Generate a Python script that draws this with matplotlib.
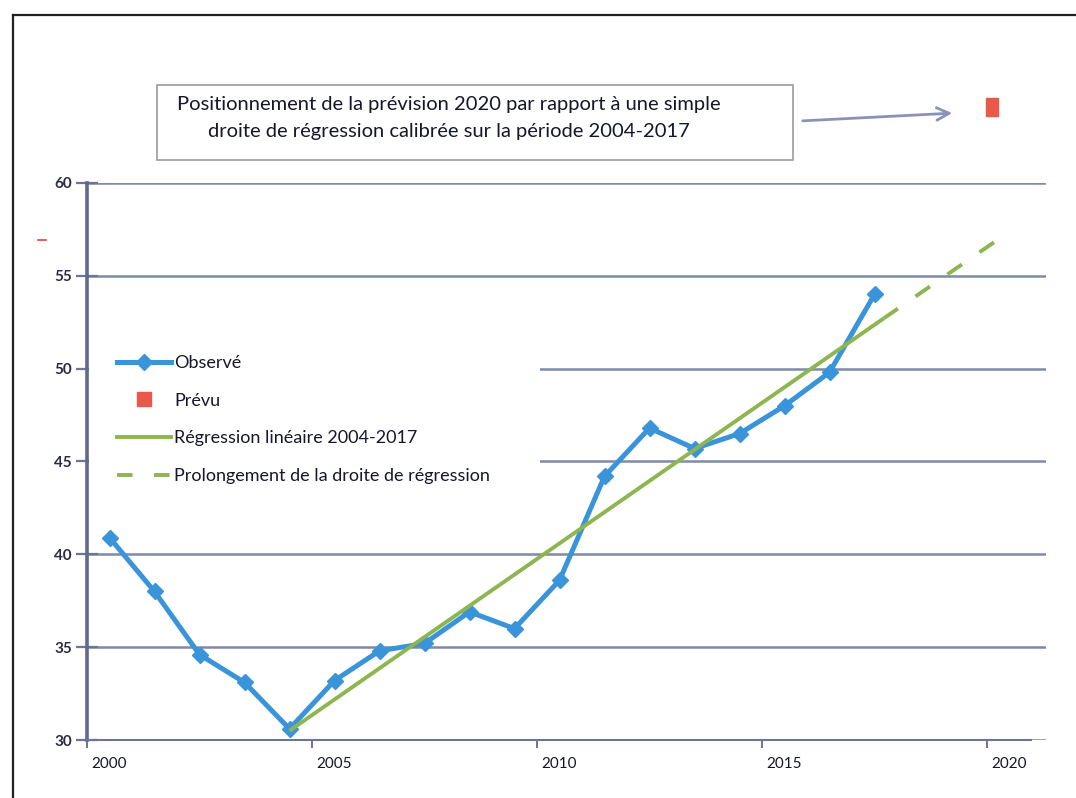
import matplotlib

matplotlib.use("Agg")
import matplotlib.pyplot as plt
import matplotlib.transforms as mtrans
from matplotlib.lines import Line2D
from matplotlib.patches import Rectangle

plt.rcParams["font.family"] = ["Lato", "DejaVu Sans"]

YEARS = [2000, 2001, 2002, 2003, 2004, 2005, 2006, 2007, 2008,
         2009, 2010, 2011, 2012, 2013, 2014, 2015, 2016, 2017]
OBSERVED = [40.9, 38.0, 34.6, 33.1, 30.6, 33.2, 34.8, 35.2, 36.9,
            36.0, 38.6, 44.2, 46.8, 45.7, 46.5, 48.0, 49.8, 54.0]

# linear regression 2004-2017 and its extension
REG_YEARS = [2004, 2017.2]
REG_VALUES = [30.5, 52.7]
EXT_YEARS = [2017.2, 2019.95]
EXT_VALUES = [52.7, 57.3]

# 2020 forecast (sits above the plot area)
PREVU_YEAR = [2019.6]
PREVU_VALUE = [64.1]

XTICK_LABELS = ["2000", "2005", "2010", "2015", "2020"]
YTICKS = [30, 35, 40, 45, 50, 55, 60]

BLUE = "#3A94DA"
GREEN = "#8DB650"
RED = "#E8594A"
GRID = "#7F89A8"
AXIS = "#5E6A8E"
INK = "#15172A"

W, H = 1076, 798
fig = plt.figure(figsize=(W / 100, H / 100), dpi=100)
fig.patch.set_facecolor("white")

# axes box in pixels: left 87, right 1046, top 183 (=60), bottom 740 (=30)
ax = fig.add_axes([87 / W, 1 - 740 / H, (1046 - 87) / W, (740 - 183) / H])
ax.set_xlim(1999.5, 1999.5 + (1046 - 87) / 45)
ax.set_ylim(30, 60)
ax.set_axisbelow(True)

for s in ("top", "right"):
    ax.spines[s].set_visible(False)
ax.spines["left"].set_color(AXIS)
ax.spines["left"].set_linewidth(2.6)
ax.spines["bottom"].set_color("#6C7593")
ax.spines["bottom"].set_linewidth(1.5)
ax.spines["bottom"].set_bounds(1999.5, 1999.5 + (1031 - 87) / 45)

ax.set_yticks(YTICKS)
ax.set_yticklabels([str(v) for v in YTICKS], fontsize=11, fontweight="bold",
                   color="#2A2C40")
ax.tick_params(axis="y", direction="inout", length=16, width=1.6,
               color="#6C7593", pad=3)
ax.yaxis.grid(True, color=GRID, linewidth=1.8)
ax.xaxis.grid(False)

xt = [1999.5 + 5 * i for i in range(len(XTICK_LABELS))]
ax.set_xticks(xt)
ax.set_xticklabels(XTICK_LABELS, fontsize=11, color=INK, ha="left")
ax.tick_params(axis="x", direction="out", length=6, width=1.4,
               color="#6C7593", pad=6)
off = mtrans.ScaledTranslation(4 / 100, 0, fig.dpi_scale_trans)
for lab in ax.get_xticklabels():
    lab.set_transform(lab.get_transform() + off)

# white legend background hiding the gridlines
ax.add_patch(Rectangle((0.002, (740 - 492) / 557), (540 - 89) / 959, 150 / 557,
                       transform=ax.transAxes, facecolor="white",
                       edgecolor="none", zorder=1))

ax.plot(YEARS, OBSERVED, color=BLUE, lw=3.6, marker="D", ms=8,
        zorder=3, solid_joinstyle="round")
ax.plot(REG_YEARS, REG_VALUES, color=GREEN, lw=2.8, zorder=4,
        solid_capstyle="butt")
ax.plot(EXT_YEARS, EXT_VALUES, color=GREEN, lw=2.8, zorder=4,
        dashes=(4.5, 5.5), dash_capstyle="butt")
rect = [(-0.32, -0.5), (0.32, -0.5), (0.32, 0.5), (-0.32, 0.5), (-0.32, -0.5)]
ax.plot(PREVU_YEAR, PREVU_VALUE, ls="none", marker=rect, ms=12.5,
        color=RED, clip_on=False, zorder=5)

handles = [
    Line2D([], [], color=BLUE, lw=3.6, marker="D", ms=8),
    Line2D([], [], ls="none", marker="s", ms=10, color=RED),
    Line2D([], [], color=GREEN, lw=2.8),
    Line2D([], [], color=GREEN, lw=2.8, dashes=(4, 5.5)),
]
labels = ["Observé", "Prévu", "Régression linéaire 2004-2017",
          "Prolongement de la droite de régression"]
leg = fig.legend(handles, labels, loc="upper left",
                 bbox_to_anchor=(117 / W, 1 - 355 / H), frameon=False,
                 fontsize=13, handlelength=3.0, handletextpad=0.15,
                 labelspacing=1.2, borderpad=0, borderaxespad=0)
for t in leg.get_texts():
    t.set_color(INK)

# annotation box, arrow and frame of the scanned page
fig.add_artist(Rectangle((157 / W, 1 - 160 / H), (793 - 157) / W, 75 / H,
                         transform=fig.transFigure, fill=False,
                         edgecolor="#9C9C9C", lw=1.2))
fig.text(449 / W, 1 - 118 / H,
         "Positionnement de la prévision 2020 par rapport à une simple\n"
         "droite de régression calibrée sur la période 2004-2017",
         ha="center", va="center", fontsize=14.5, linespacing=1.7,
         color=INK)
ax.annotate("", xy=(955, H - 113), xytext=(800, H - 121),
            xycoords="figure pixels", textcoords="figure pixels",
            arrowprops=dict(arrowstyle="->,head_length=0.9,head_width=0.45",
                            color="#8A93B5", lw=2))
fig.add_artist(Line2D([13 / W, 1.0], [1 - 15 / H, 1 - 15 / H],
                      transform=fig.transFigure, color="#222222", lw=1.6))
fig.add_artist(Line2D([13 / W, 13 / W], [0, 1 - 15 / H],
                      transform=fig.transFigure, color="#222222", lw=1.6))
fig.add_artist(Line2D([38 / W, 46 / W], [1 - 240 / H, 1 - 240 / H],
                      transform=fig.transFigure, color="#E04040", lw=1.2))

fig.savefig("out.png", dpi=100)
